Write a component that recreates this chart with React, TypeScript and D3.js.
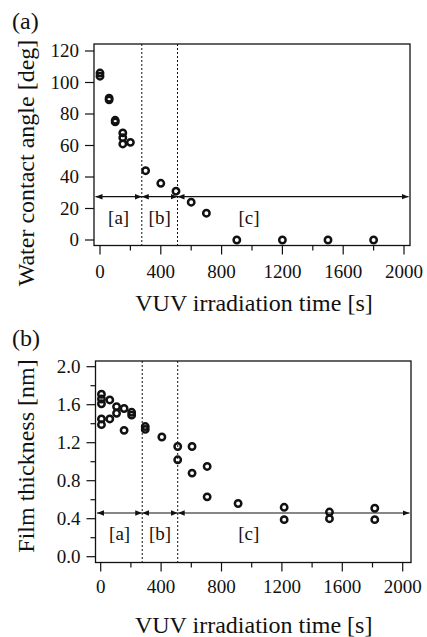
import React from "react";
import { scaleLinear } from "d3";

// panel (a): water contact angle
const timeA = [0, 0, 60, 60, 100, 100, 150, 150, 150, 200, 300, 400, 500, 600, 700, 900, 1200, 1500, 1800];
const angleA = [106, 104, 90, 89, 76, 75, 68, 65, 61, 62, 44, 36, 31, 24, 17, 0, 0, 0, 0];

// panel (b): film thickness
const timeB = [5, 5, 5, 5, 5, 60, 60, 105, 105, 155, 155, 205, 205, 295, 295, 405, 510, 510, 605, 605, 705, 705, 910, 1215, 1215, 1515, 1515, 1815, 1815];
const thickB = [1.71, 1.66, 1.61, 1.45, 1.39, 1.65, 1.45, 1.58, 1.51, 1.56, 1.33, 1.52, 1.49, 1.37, 1.34, 1.26, 1.16, 1.02, 1.16, 0.88, 0.95, 0.63, 0.56, 0.52, 0.39, 0.47, 0.4, 0.51, 0.39];

const xTicks = [0, 400, 800, 1200, 1600, 2000];
const xMinor = [200, 600, 1000, 1400, 1800];
const yTicksA = [0, 20, 40, 60, 80, 100, 120];
const yTicksB = [0, 0.4, 0.8, 1.2, 1.6, 2.0];
const yMinorB = [0.2, 0.6, 1.0, 1.4, 1.8];
const phaseBounds = [275, 510];
const phaseLabels = ["[a]", "[b]", "[c]"];

const FONT = "'Liberation Serif', 'Times New Roman', serif";
const INK = "#111";

function Panel(props) {
  const { tag, times, values, yTicks, yMinor, yFmt, yTitle, box, xr, yr, yd, arrowY, labelY, labelX, titleY, tagY, yTitleY, tickLabelY } = props;
  const x = scaleLinear().domain([0, 2000]).range(xr);
  const y = scaleLinear().domain(yd).range(yr);
  const [L, T, R, B] = box;
  const ay = y(arrowY);
  const segs = [
    [L + 1.5, x(phaseBounds[0])],
    [x(phaseBounds[0]), x(phaseBounds[1])],
    [x(phaseBounds[1]), R - 1.5],
  ];
  return (
    <g fontFamily={FONT} fill={INK}>
      <text x={12} y={tagY} fontSize={24}>{tag}</text>
      <text transform={`translate(34,${yTitleY}) rotate(-90)`} textAnchor="middle" fontSize={24}>{yTitle}</text>
      <text x={(xr[0] + xr[1]) / 2 + 2} y={titleY} textAnchor="middle" fontSize={24}>VUV irradiation time [s]</text>

      {/* frame */}
      <rect x={L} y={T} width={R - L} height={B - T} fill="none" stroke={INK} strokeWidth={1.3} />

      {/* y ticks */}
      {yTicks.map((v) => (
        <g key={"y" + v}>
          <line x1={L - 9} x2={L} y1={y(v)} y2={y(v)} stroke={INK} strokeWidth={1.2} />
          <text x={L - 15} y={y(v)} dy="0.34em" textAnchor="end" fontSize={19}>{yFmt(v)}</text>
        </g>
      ))}
      {yMinor.map((v) => (
        <line key={"ym" + v} x1={L - 5} x2={L} y1={y(v)} y2={y(v)} stroke={INK} strokeWidth={1.2} />
      ))}

      {/* x ticks */}
      {xTicks.map((v) => (
        <g key={"x" + v}>
          <line x1={x(v)} x2={x(v)} y1={B} y2={B + 9} stroke={INK} strokeWidth={1.2} />
          <text x={x(v)} y={tickLabelY} textAnchor="middle" fontSize={19}>{v}</text>
        </g>
      ))}
      {xMinor.map((v) => (
        <line key={"xm" + v} x1={x(v)} x2={x(v)} y1={B} y2={B + 5} stroke={INK} strokeWidth={1.2} />
      ))}

      {/* phase boundaries */}
      {phaseBounds.map((t) => (
        <line key={"pb" + t} x1={x(t)} x2={x(t)} y1={T} y2={B} stroke={INK} strokeWidth={1} strokeDasharray="2,2" />
      ))}
      {segs.map(([a, b], i) => (
        <line key={"seg" + i} x1={a} x2={b} y1={ay} y2={ay} stroke={INK} strokeWidth={1.2}
          markerStart="url(#arr)" markerEnd="url(#arr)" />
      ))}
      {phaseLabels.map((s, i) => (
        <text key={s} x={i < 2 ? (segs[i][0] + segs[i][1]) / 2 : x(labelX)} y={y(labelY)} textAnchor="middle" fontSize={19}>{s}</text>
      ))}

      {/* points */}
      {times.map((t, i) => (
        <circle key={"p" + i} cx={x(t)} cy={y(values[i])} r={3.2} fill="none" stroke={INK} strokeWidth={2.5} />
      ))}
    </g>
  );
}

export default function App() {
  return (
    <svg width={427} height={637} style={{ position: "absolute", left: 0, top: 0, background: "#fff" }}>
      <defs>
        <marker id="arr" viewBox="0 0 10 10" refX={10} refY={5} markerWidth={7} markerHeight={7}
          markerUnits="userSpaceOnUse" orient="auto-start-reverse">
          <path d="M0,1 L10,5 L0,9 Z" fill={INK} />
        </marker>
      </defs>
      <Panel
        tag="(a)" tagY={29}
        times={timeA} values={angleA}
        yTicks={yTicksA} yMinor={[]} yFmt={(v) => String(v)}
        yTitle="Water contact angle [deg]" yTitleY={163}
        box={[94, 44, 410, 245.5]}
        xr={[100, 404]} yr={[240, 51]} yd={[0, 120]}
        arrowY={27.5} labelY={10} labelX={980}
        tickLabelY={278} titleY={311}
      />
      <Panel
        tag="(b)" tagY={346}
        times={timeB} values={thickB}
        yTicks={yTicksB} yMinor={yMinorB} yFmt={(v) => v.toFixed(1)}
        yTitle="Film thickness [nm]" yTitleY={456}
        box={[95.5, 361, 411, 562.5]}
        xr={[100.7, 402.7]} yr={[556.7, 366.7]} yd={[0, 2]}
        arrowY={0.46} labelY={0.18} labelX={980}
        tickLabelY={593} titleY={633}
      />
    </svg>
  );
}
